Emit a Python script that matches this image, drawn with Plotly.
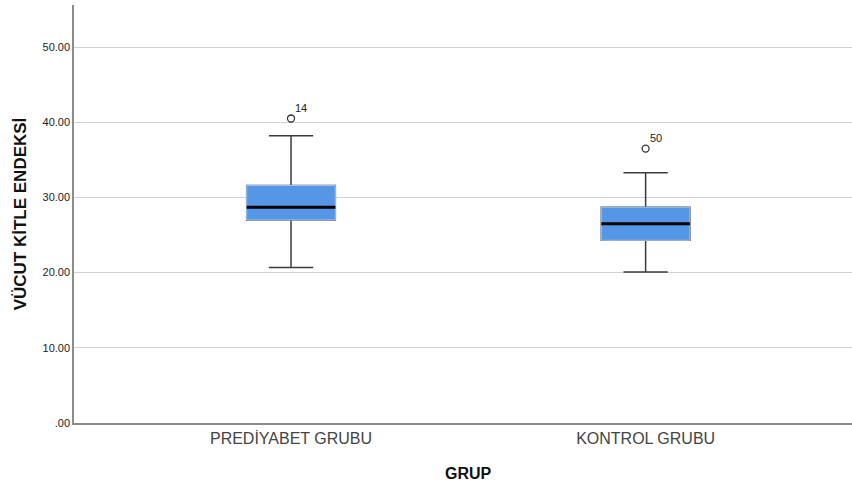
import plotly.graph_objects as go

# ---- data ----
groups = ["PREDİYABET GRUBU", "KONTROL GRUBU"]
q1 = [27.0, 24.3]
median = [28.7, 26.5]
q3 = [31.6, 28.7]
lower_whisker = [20.7, 20.1]
upper_whisker = [38.2, 33.3]
outlier_values = [40.5, 36.5]
outlier_labels = ["14", "50"]
y_tick_values = [0, 10, 20, 30, 40, 50]
y_tick_labels = [".00", "10.00", "20.00", "30.00", "40.00", "50.00"]

# ---- style ----
BOX_W = 0.25
FILL = "#5596e6"
FONT = "Liberation Sans, Arial, sans-serif"

xs = list(range(len(groups)))
fig = go.Figure()

# whiskers (dark lines)
fig.add_trace(go.Box(
    x=xs, q1=q1, median=median, q3=q3,
    lowerfence=lower_whisker, upperfence=upper_whisker,
    width=BOX_W, whiskerwidth=0.5,
    line=dict(color="#3c3c3c", width=1.5),
    fillcolor="rgba(0,0,0,0)", showlegend=False, hoverinfo="skip",
))
# filled box on top (no whiskers)
fig.add_trace(go.Box(
    x=xs, q1=q1, median=median, q3=q3,
    lowerfence=q1, upperfence=q3,
    width=BOX_W, whiskerwidth=0,
    line=dict(color="#a9c8f0", width=1),
    fillcolor=FILL, showlegend=False,
))
# thick median lines
mx, my = [], []
for i, m in zip(xs, median):
    mx += [i - BOX_W / 2, i + BOX_W / 2, None]
    my += [m, m, None]
fig.add_trace(go.Scatter(x=mx, y=my, mode="lines",
                         line=dict(color="black", width=3),
                         showlegend=False, hoverinfo="skip"))
# outliers
fig.add_trace(go.Scatter(
    x=xs, y=outlier_values, mode="markers",
    marker=dict(symbol="circle-open", size=7, color="#333333",
                line=dict(width=1.3)),
    showlegend=False,
))
for i, v, lab in zip(xs, outlier_values, outlier_labels):
    fig.add_annotation(x=i, y=v, text=lab, showarrow=False,
                       xshift=10, yshift=11,
                       font=dict(family=FONT, size=11, color="#222222"))

# x-axis title as annotation (slightly right of center, as in reference)
fig.add_annotation(x=0.5065, y=0, xref="paper", yref="paper",
                   yshift=-50, yanchor="middle", showarrow=False,
                   text="<b>GRUP</b>", font=dict(family=FONT, size=16, color="#111111"))

fig.update_layout(
    width=852, height=486,
    margin=dict(l=74, r=0, t=5, b=63),
    plot_bgcolor="white", paper_bgcolor="white",
    font=dict(family=FONT, color="#222222"),
    boxmode="overlay",
)
fig.update_xaxes(
    range=[-0.612, 1.582],
    tickvals=xs, ticktext=groups,
    tickfont=dict(size=16, color="#444444"),
    showgrid=False, zeroline=False,
    showline=True, linecolor="#8c8c8c", linewidth=1.5,
    ticks="", ticklen=0, automargin=False,
)
fig.update_yaxes(
    range=[0, 55.6],
    tickvals=y_tick_values, ticktext=y_tick_labels,
    tickfont=dict(size=11, color="#222222"),
    showgrid=True, gridcolor="#d2d2d2", gridwidth=1,
    zeroline=False,
    showline=True, linecolor="#8c8c8c", linewidth=1.5,
    ticks="", automargin=False,
    title=dict(text="<b>VÜCUT KİTLE ENDEKSİ</b>", font=dict(size=17, color="#111111"), standoff=12),
)

fig.write_html("out.html", config={"displayModeBar": False},
               post_script="document.body.style.margin='0';")
